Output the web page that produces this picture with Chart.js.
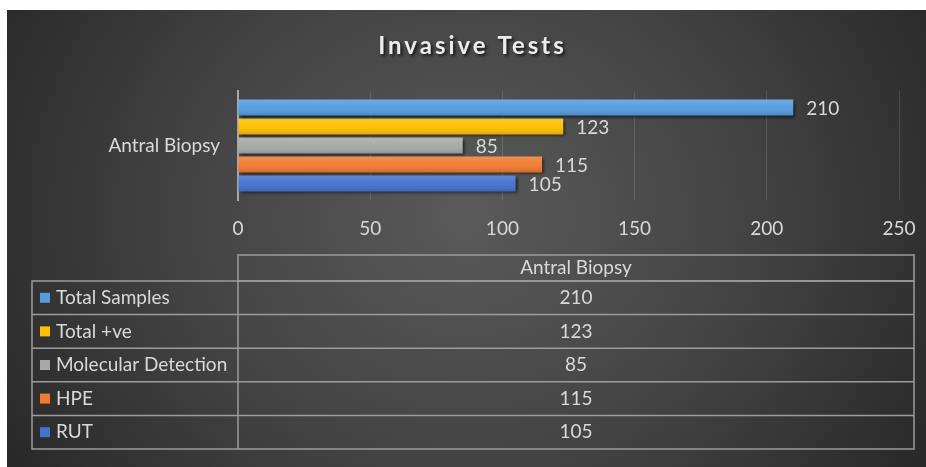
<!DOCTYPE html>
<html lang="en">
<head>
  <meta charset="UTF-8">
  <title>Invasive Tests</title>
  <script src="https://cdn.jsdelivr.net/npm/chart.js"></script>
  <style>
    html, body { margin: 0; padding: 0; background: #fff; }
    #wrap {
      position: absolute; left: 7px; top: 10px; width: 919px; height: 457px;
      background: radial-gradient(ellipse 62% 110% at 50% 45%, #5a5a5a 0%, #434343 50%, #252525 100%);
    }
  </style>
  <script>
    // chart values
    const categories = ['Antral Biopsy'];
    const seriesNames = ['Total Samples', 'Total +ve', 'Molecular Detection', 'HPE', 'RUT'];
    const totalSamples = [210];
    const totalPositive = [123];
    const molecularDetection = [85];
    const hpe = [115];
    const rut = [105];
    const seriesValues = [totalSamples, totalPositive, molecularDetection, hpe, rut];
    const axisMin = 0, axisMax = 250, axisStep = 50;

    const seriesColors = ['#559BDD', '#FFC000', '#A8A8A8', '#F07A30', '#4472D0'];
    const textColor = '#d9d9d9';
    const fontFamily = 'Lato, "Open Sans", sans-serif';
  </script>
</head>
<body>
  <div id="wrap"><canvas id="chart"></canvas></div>

  <script>
    // title drawn by hand so it gets letter spacing + a soft shadow
    const titlePlugin = {
      id: 'titleText',
      afterDraw(chart) {
        const ctx = chart.ctx;
        ctx.save();
        ctx.font = 'bold 24px ' + fontFamily;
        ctx.letterSpacing = '3px';
        ctx.fillStyle = '#ececec';
        ctx.textAlign = 'center';
        ctx.textBaseline = 'middle';
        ctx.shadowColor = 'rgba(0,0,0,0.7)';
        ctx.shadowOffsetX = 2;
        ctx.shadowOffsetY = 2;
        ctx.shadowBlur = 3;
        ctx.fillText('Invasive Tests', chart.width / 2 + 6, 36);
        ctx.restore();
      }
    };

    // shadow under the bars
    const barShadow = {
      id: 'barShadow',
      beforeDatasetsDraw(chart) {
        const ctx = chart.ctx;
        ctx.save();
        ctx.shadowColor = 'rgba(0,0,0,0.65)';
        ctx.shadowOffsetX = 2;
        ctx.shadowOffsetY = 2;
        ctx.shadowBlur = 3;
      },
      afterDatasetsDraw(chart) {
        chart.ctx.restore();
      }
    };

    // light top / dark bottom sheen over each bar, then the value label
    const valueLabels = {
      id: 'valueLabels',
      afterDatasetsDraw(chart) {
        const ctx = chart.ctx;
        ctx.save();
        chart.data.datasets.forEach((ds, i) => {
          chart.getDatasetMeta(i).data.forEach(bar => {
            const top = bar.y - bar.height / 2;
            const g = ctx.createLinearGradient(0, top, 0, top + bar.height);
            g.addColorStop(0, 'rgba(255,255,255,0.16)');
            g.addColorStop(0.45, 'rgba(255,255,255,0.04)');
            g.addColorStop(1, 'rgba(0,0,0,0.12)');
            ctx.fillStyle = g;
            ctx.fillRect(bar.base, top, bar.x - bar.base, bar.height);
          });
        });
        ctx.font = '19px ' + fontFamily;
        ctx.fillStyle = textColor;
        ctx.textAlign = 'left';
        ctx.textBaseline = 'middle';
        chart.data.datasets.forEach((ds, i) => {
          chart.getDatasetMeta(i).data.forEach((bar, j) => {
            ctx.fillText(ds.data[j], bar.x + 13, bar.y + 1);
          });
        });
        ctx.restore();
      }
    };

    // data table under the axis
    const dataTable = {
      id: 'dataTable',
      afterDraw(chart) {
        const ctx = chart.ctx;
        const area = chart.chartArea;
        const left = 25, split = area.left, right = chart.width - 12;
        const top = area.bottom + 55;
        const headH = 26, rowH = 33.6;
        const bottom = top + headH + rowH * seriesNames.length;

        ctx.save();
        ctx.strokeStyle = '#9c9c9c';
        ctx.lineWidth = 1.5;
        // header cell
        ctx.strokeRect(split, top, right - split, headH);
        // body
        ctx.strokeRect(left, top + headH, right - left, bottom - top - headH);
        ctx.beginPath();
        ctx.moveTo(split, top + headH);
        ctx.lineTo(split, bottom);
        for (let i = 1; i < seriesNames.length; i++) {
          const y = top + headH + rowH * i;
          ctx.moveTo(left, y);
          ctx.lineTo(right, y);
        }
        ctx.stroke();

        ctx.font = '19px ' + fontFamily;
        ctx.fillStyle = textColor;
        ctx.textBaseline = 'middle';
        const cx = (split + right) / 2;
        ctx.textAlign = 'center';
        ctx.fillText(categories[0], cx, top + headH / 2);

        seriesNames.forEach((name, i) => {
          const cy = top + headH + rowH * i + rowH / 2;
          ctx.fillStyle = seriesColors[i];
          ctx.fillRect(33, cy - 5, 10, 10);
          ctx.fillStyle = textColor;
          ctx.textAlign = 'left';
          ctx.fillText(name, 49, cy);
          ctx.textAlign = 'center';
          ctx.fillText(seriesValues[i][0], cx, cy);
        });
        ctx.restore();
      }
    };

    new Chart(document.getElementById('chart'), {
      type: 'bar',
      data: {
        labels: categories,
        datasets: seriesNames.map((name, i) => ({
          label: name,
          data: seriesValues[i],
          backgroundColor: seriesColors[i],
          borderWidth: 0,
          categoryPercentage: 0.87,
          barPercentage: 0.84
        }))
      },
      options: {
        indexAxis: 'y',
        responsive: true,
        maintainAspectRatio: false,
        animation: false,
        layout: { padding: { top: 81, right: 27, bottom: 217, left: 0 } },
        plugins: {
          legend: { display: false },
          tooltip: { enabled: false }
        },
        scales: {
          x: {
            min: axisMin,
            max: axisMax,
            ticks: { stepSize: axisStep, color: textColor, font: { family: fontFamily, size: 19 }, padding: 17 },
            grid: { color: 'rgba(255,255,255,0.13)', lineWidth: 1, drawTicks: false },
            border: { display: false },
            // keep the plot width fixed, the "250" label can hang into the padding
            afterFit(s) { s.height = 50; s.paddingLeft = 0; s.paddingRight = 0; }
          },
          y: {
            ticks: { color: textColor, font: { family: fontFamily, size: 19 }, padding: 18 },
            grid: { display: false, drawTicks: false },
            border: { display: true, color: '#a8a8a8', width: 2 },
            afterFit(s) { s.width = 231; }
          }
        }
      },
      plugins: [barShadow, valueLabels, titlePlugin, dataTable]
    });
  </script>
</body>
</html>
